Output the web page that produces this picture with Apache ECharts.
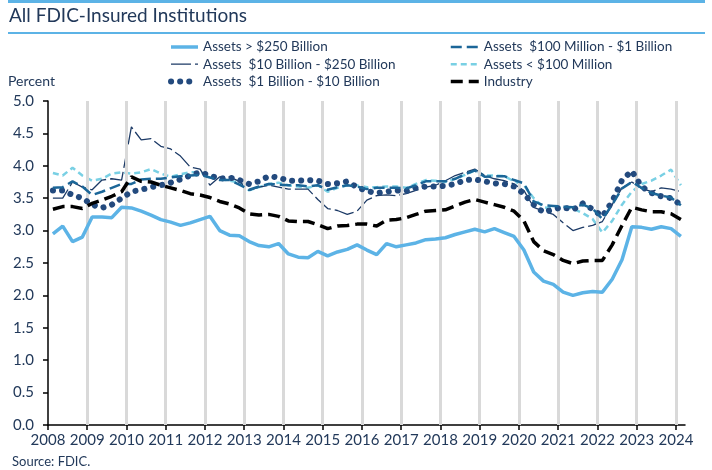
<!DOCTYPE html>
<html><head><meta charset="utf-8">
<script src="https://cdn.jsdelivr.net/npm/echarts@6/dist/echarts.min.js"></script>
<style>html,body{margin:0;padding:0;background:#fff}#c{width:712px;height:470px}</style>
</head><body><div id="c"></div>
<script>
var startYear = 2008;
var yearTicks = [2008,2009,2010,2011,2012,2013,2014,2015,2016,2017,2018,2019,2020,2021,2022,2023,2024];
var gridYears = [2009,2010,2011,2012,2013,2014,2015,2016,2017,2018,2019,2020,2021,2022,2023,2024];

var seriesNames = ["Assets > $250 Billion","Assets  $10 Billion - $250 Billion","Assets  $1 Billion - $10 Billion","Assets  $100 Million - $1 Billion","Assets < $100 Million","Industry"];

var over250B = [2.95,3.07,2.83,2.90,3.21,3.21,3.20,3.36,3.35,3.30,3.24,3.17,3.13,3.08,3.12,3.17,3.22,3.00,2.93,2.92,2.83,2.77,2.75,2.80,2.64,2.59,2.58,2.68,2.61,2.67,2.71,2.78,2.70,2.63,2.80,2.75,2.78,2.81,2.86,2.87,2.89,2.94,2.98,3.02,2.98,3.03,2.97,2.91,2.70,2.36,2.22,2.17,2.05,2.00,2.04,2.06,2.05,2.25,2.55,3.06,3.05,3.02,3.06,3.03,2.91];
var b10to250 = [3.50,3.50,3.75,3.67,3.63,3.78,3.80,3.78,4.60,4.40,4.42,4.30,4.26,4.15,3.98,3.95,3.70,3.83,3.83,3.76,3.62,3.67,3.70,3.67,3.64,3.64,3.64,3.48,3.34,3.31,3.25,3.30,3.47,3.54,3.55,3.54,3.57,3.62,3.67,3.70,3.77,3.85,3.90,3.95,3.85,3.80,3.77,3.72,3.62,3.36,3.30,3.25,3.12,3.00,3.05,3.08,3.14,3.40,3.66,3.75,3.65,3.60,3.66,3.64,3.60];
var b1to10 = [3.62,3.62,3.55,3.50,3.40,3.35,3.40,3.50,3.60,3.63,3.67,3.70,3.74,3.79,3.85,3.90,3.85,3.80,3.82,3.78,3.72,3.76,3.84,3.82,3.77,3.77,3.78,3.77,3.72,3.73,3.76,3.67,3.61,3.58,3.60,3.62,3.61,3.66,3.68,3.68,3.69,3.72,3.78,3.79,3.76,3.73,3.72,3.68,3.57,3.40,3.28,3.33,3.36,3.32,3.42,3.33,3.22,3.45,3.78,3.92,3.68,3.58,3.53,3.50,3.40];
var m100to1B = [3.66,3.67,3.76,3.68,3.55,3.60,3.66,3.72,3.72,3.79,3.80,3.80,3.82,3.84,3.85,3.86,3.82,3.78,3.78,3.71,3.63,3.68,3.72,3.71,3.70,3.70,3.68,3.70,3.63,3.67,3.70,3.68,3.64,3.66,3.66,3.66,3.65,3.70,3.76,3.76,3.76,3.80,3.87,3.93,3.83,3.84,3.84,3.78,3.73,3.45,3.39,3.38,3.37,3.36,3.40,3.34,3.18,3.40,3.65,3.75,3.66,3.58,3.54,3.51,3.39];
var under100M = [3.89,3.85,3.97,3.85,3.77,3.80,3.88,3.90,3.88,3.90,3.95,3.88,3.83,3.87,3.90,3.90,3.85,3.80,3.77,3.74,3.62,3.67,3.72,3.74,3.70,3.68,3.66,3.70,3.60,3.66,3.70,3.70,3.67,3.67,3.68,3.68,3.66,3.72,3.78,3.77,3.75,3.80,3.86,3.93,3.85,3.85,3.84,3.76,3.70,3.50,3.36,3.34,3.36,3.34,3.27,3.18,2.97,3.15,3.40,3.60,3.72,3.77,3.85,3.94,3.70];
var industry = [3.33,3.37,3.37,3.34,3.42,3.47,3.53,3.60,3.83,3.76,3.75,3.70,3.66,3.62,3.57,3.55,3.51,3.45,3.41,3.35,3.26,3.24,3.25,3.22,3.15,3.14,3.14,3.09,3.03,3.07,3.08,3.10,3.10,3.07,3.16,3.17,3.20,3.25,3.30,3.31,3.32,3.38,3.44,3.48,3.44,3.40,3.36,3.30,3.15,2.83,2.69,2.63,2.54,2.49,2.53,2.54,2.54,2.78,3.08,3.36,3.32,3.29,3.29,3.26,3.17];

// quarter positions (mid-quarter), 2008Q1 .. 2024Q1
var quarters = [];
for (var i = 0; i < over250B.length; i++) {
  var yr = startYear + Math.floor(i / 4), q = i % 4 + 1;
  quarters.push({ label: yr + "Q" + q, pos: yr + (q - 1) / 4 + 0.125 });
}
function pairs(arr) { return arr.map(function (v, i) { return [quarters[i].pos, v]; }); }

var txt = '#22395a';
var font = 'Lato';

var styles = {};
styles[seriesNames[0]] = { color: '#5cb3e6', width: 3.5, type: 'solid', z: 7 };
styles[seriesNames[1]] = { color: '#1c3a66', width: 1.3, type: [20, 4], z: 4 };
styles[seriesNames[2]] = { color: '#234a7e', width: 6, type: [0.1, 9], z: 5, cap: 'round' };
styles[seriesNames[3]] = { color: '#1b6698', width: 2.5, type: [11, 5], z: 6 };
styles[seriesNames[4]] = { color: '#79d0e4', width: 2.5, type: [6, 4], z: 3 };
styles[seriesNames[5]] = { color: '#000000', width: 3.5, type: [12, 6], z: 8 };

function lineSeries(name, data) {
  var st = styles[name];
  return {
    name: name, type: 'line', data: pairs(data), symbol: 'none', showSymbol: false,
    z: st.z, silent: true,
    lineStyle: { color: st.color, width: st.width, type: st.type, cap: st.cap || 'butt' },
    itemStyle: { color: st.color }
  };
}
function legendItem(name) {
  var st = styles[name];
  return { name: name, lineStyle: { color: st.color, width: st.width, type: st.type, cap: st.cap || 'butt' } };
}

var legendCommon = {
  orient: 'vertical', top: 35, itemHeight: 12, itemGap: 3.2, selectedMode: false,
  itemStyle: { opacity: 0 },
  textStyle: { color: txt, fontSize: 13.5, fontFamily: font }
};

var chart = echarts.init(document.getElementById('c'), null, { renderer: 'canvas' });
chart.setOption({
  animation: false,
  backgroundColor: '#fff',
  textStyle: { fontFamily: font },
  graphic: [
    { type: 'rect', shape: { x: 8, y: 0, width: 697, height: 3 }, style: { fill: '#5cb3e6' } },
    { type: 'text', left: 9, top: 6, style: { text: 'All FDIC-Insured Institutions', font: '19px Lato', fill: txt } },
    { type: 'rect', shape: { x: 8, y: 32, width: 697, height: 2 }, style: { fill: '#5cb3e6' } },
    { type: 'text', left: 8, top: 74, style: { text: 'Percent', font: '14px Lato', fill: txt } },
    { type: 'text', left: 12, top: 455, style: { text: 'Source: FDIC.', font: '13px Lato', fill: txt } }
  ],
  legend: [
    Object.assign({ data: [seriesNames[0], seriesNames[1], seriesNames[2]].map(legendItem), left: 163, itemWidth: 27 }, legendCommon),
    Object.assign({ data: [seriesNames[3], seriesNames[4], seriesNames[5]].map(legendItem), left: 444, itemWidth: 28 }, legendCommon)
  ],
  grid: { left: 48, right: 27, top: 101, bottom: 45, containLabel: false },
  xAxis: {
    type: 'value', min: 2008, max: 2024.23, interval: 1,
    axisLine: { lineStyle: { color: '#000', width: 1.5 } },
    axisTick: { show: true, length: 5, lineStyle: { color: '#000', width: 1.5 }, customValues: yearTicks },
    axisLabel: { color: txt, fontSize: 15, fontFamily: font, margin: 8, customValues: yearTicks,
      formatter: function (v) { return String(Math.round(v)); } },
    splitLine: { show: false }
  },
  yAxis: {
    type: 'value', min: 0, max: 5, interval: 0.5,
    axisLine: { show: true, lineStyle: { color: '#000', width: 1.5 } },
    axisTick: { show: true, length: 5, lineStyle: { color: '#000', width: 1.5 } },
    axisLabel: { color: txt, fontSize: 15, fontFamily: font, margin: 14,
      formatter: function (v) { return v.toFixed(1); } },
    splitLine: { show: false }
  },
  series: [
    {
      name: 'grid', type: 'line', data: [], silent: true, z: 1,
      markLine: {
        silent: true, symbol: 'none', animation: false,
        label: { show: false },
        lineStyle: { color: '#d9d9d9', width: 3, type: 'solid' },
        data: gridYears.map(function (y) { return { xAxis: y }; })
      }
    },
    lineSeries(seriesNames[4], under100M),
    lineSeries(seriesNames[1], b10to250),
    lineSeries(seriesNames[2], b1to10),
    lineSeries(seriesNames[3], m100to1B),
    lineSeries(seriesNames[0], over250B),
    lineSeries(seriesNames[5], industry)
  ]
});
</script></body></html>
